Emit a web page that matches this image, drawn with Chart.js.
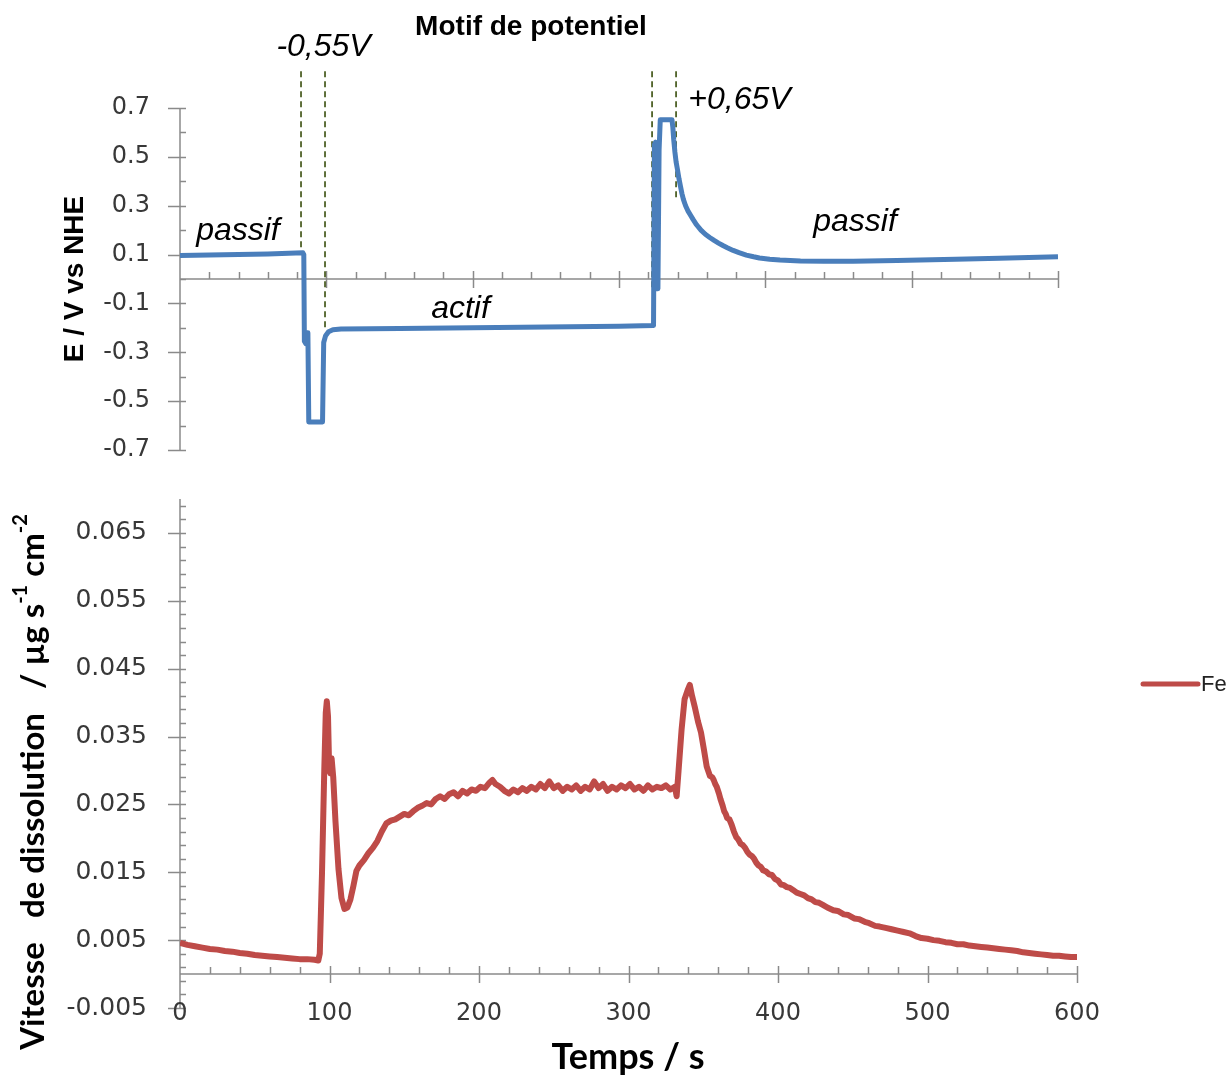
<!DOCTYPE html>
<html>
<head>
<meta charset="utf-8">
<script src="https://cdn.jsdelivr.net/npm/chart.js@4.4.1/dist/chart.umd.min.js"></script>
<style>
  html, body { margin: 0; padding: 0; background: #fff; }
  .wrap { position: relative; width: 1228px; height: 1076px; }
  .wrap canvas { position: absolute; left: 0; top: 0; }
</style>
</head>
<body>
<div class="wrap">
  <canvas id="potChart" width="1228" height="1076"></canvas>
  <canvas id="feChart" width="1228" height="1076"></canvas>
</div>
<script>
// data: potential pattern (top)
const potTime = [0, 30, 60, 84.0, 84.6, 85.0, 86.0, 86.6, 87.4, 88.0, 97.4, 98.2, 99.5, 101.5, 104.5, 110,
  150, 200, 250, 300, 323.6, 324.2, 325.0, 325.6, 326.6, 327.4, 328.2, 336.2, 336.8, 337.4, 338.2, 339.0, 339.9,
  341, 342, 343, 344, 345.5, 347, 349, 350.6, 353, 356, 359, 362, 365, 368, 371, 374, 378, 382, 387, 392,
  396, 403, 410, 424, 440, 460, 490, 530, 560, 600]
const potValue = [0.096, 0.099, 0.102, 0.107, 0.100, -0.255, -0.265, -0.22, -0.22, -0.585, -0.585, -0.26, -0.232, -0.216, -0.208, -0.205,
  -0.203, -0.200, -0.197, -0.193, -0.19, 0.55, 0.56, -0.04, -0.04, 0.53, 0.652, 0.652, 0.62, 0.57, 0.52, 0.48, 0.45,
  0.41, 0.38, 0.35, 0.326, 0.30, 0.28, 0.26, 0.244, 0.222, 0.20, 0.183, 0.170, 0.158, 0.147, 0.137, 0.128, 0.117, 0.108, 0.098, 0.091,
  0.086, 0.081, 0.078, 0.074, 0.073, 0.073, 0.076, 0.081, 0.085, 0.091]

// dashed markers around the pulses
const markerTime = [82.7, 99.1, 322.6, 339]
const markerLow = [0.108, -0.2, -0.04, 0.33]
const markerHigh = 0.85

// data: Fe dissolution rate (bottom)
const feTime = [0, 5, 10, 15, 20, 25, 30, 35, 40, 45, 50, 55, 60, 65, 70, 75, 80, 85, 90, 92.5,
  93.5, 95, 96.5, 97.5, 98.2, 99, 99.8, 100.6, 101.4, 102.5, 104, 106, 108, 110, 112, 114, 116, 118,
  120, 123, 126, 129, 132, 135, 138, 141, 144, 147, 150, 153, 156, 159, 162, 165, 168, 171, 174, 177,
  180, 183, 186, 189, 192, 195, 198, 201, 204, 207, 209, 211, 214, 217, 220, 223, 226, 229, 232, 235,
  238, 241, 244, 247, 250, 253, 256, 259, 262, 265, 268, 271, 274, 277, 280, 283, 286, 289, 292, 295,
  298, 301, 304, 307, 310, 313, 316, 319, 322, 325, 328, 331, 332.2, 333.5, 335.5, 337.5, 339.5, 341,
  342.5, 344.5, 346.5, 348.5, 350.5, 352.3, 354.5, 356, 357, 358, 359, 360.5, 361.5, 363, 364, 365, 366,
  367.5, 369, 370.5, 372, 373.5, 375, 376.5, 378, 379.5, 381, 382.5, 384, 385.5, 387, 388.5, 390, 392,
  394, 396, 398, 400, 402, 404, 406, 408, 410, 412.5, 415, 417.5, 420, 422.5, 425, 427.5, 430, 433,
  437, 440, 444, 447, 451, 454, 458, 461, 465, 468, 472, 476, 480, 484, 488, 492, 496, 500, 504, 508,
  512, 516, 520, 524, 528, 532, 536, 540, 544, 548, 552, 556, 560, 564, 568, 572, 576, 580, 584, 588,
  592, 596, 600]
const feRate = [0.0046, 0.0043, 0.0041, 0.0039, 0.0037, 0.0036, 0.0034, 0.0033, 0.0031, 0.0030, 0.0028, 0.0027, 0.0026, 0.0025, 0.0024, 0.0023, 0.0022, 0.0022, 0.0021, 0.0020,
  0.0030, 0.0150, 0.0300, 0.0385, 0.0402, 0.0380, 0.0300, 0.0296, 0.0318, 0.0290, 0.0225, 0.0155, 0.0112, 0.0096, 0.0098, 0.0110, 0.0130, 0.0152,
  0.0160, 0.0168, 0.0178, 0.0186, 0.0196, 0.0210, 0.0222, 0.0226, 0.0228, 0.0232, 0.0236, 0.0234, 0.0240, 0.0245, 0.0248, 0.0252, 0.0250, 0.0258, 0.0262, 0.0258,
  0.0265, 0.0268, 0.0262, 0.0270, 0.0266, 0.0272, 0.0270, 0.0276, 0.0274, 0.0282, 0.0286, 0.0280, 0.0276, 0.0270, 0.0266, 0.0272, 0.0268, 0.0274, 0.0270, 0.0276,
  0.0272, 0.0280, 0.0274, 0.0284, 0.0274, 0.0278, 0.0270, 0.0276, 0.0272, 0.0278, 0.0270, 0.0276, 0.0272, 0.0284, 0.0274, 0.0280, 0.0270, 0.0276, 0.0272, 0.0278,
  0.0274, 0.0280, 0.0272, 0.0276, 0.0270, 0.0278, 0.0272, 0.0276, 0.0274, 0.0278, 0.0272, 0.0276, 0.0262, 0.0300, 0.0360, 0.0405, 0.0418, 0.0426,
  0.0410, 0.0392, 0.0372, 0.0356, 0.0330, 0.0306, 0.0292, 0.0290, 0.0286, 0.0280, 0.0276, 0.0266, 0.0258, 0.0248, 0.0240, 0.0236, 0.0230,
  0.0228, 0.0220, 0.0210, 0.0202, 0.0198, 0.0192, 0.0190, 0.0186, 0.0180, 0.0176, 0.0174, 0.0170, 0.0164, 0.0160, 0.0158, 0.0153, 0.0151,
  0.0147, 0.0146, 0.0140, 0.0138, 0.0132, 0.0131, 0.0128, 0.0127, 0.0124, 0.0120, 0.0118, 0.0116, 0.0112, 0.0110, 0.0106, 0.0105, 0.0102, 0.0098,
  0.0094, 0.0093, 0.0088, 0.0087, 0.0082, 0.0081, 0.0077, 0.0075, 0.0071, 0.0070, 0.0068, 0.0066, 0.0064, 0.0062, 0.0060, 0.0056, 0.0053, 0.0052, 0.0050, 0.0049,
  0.0047, 0.0046, 0.0044, 0.0044, 0.0042, 0.0041, 0.0040, 0.0039, 0.0038, 0.0037, 0.0036, 0.0035, 0.0034, 0.0032, 0.0031, 0.0030, 0.0029, 0.0028, 0.0027, 0.0027,
  0.0026, 0.0025, 0.0025]

// tick labels
const potTicks = [-0.7, -0.5, -0.3, -0.1, 0.1, 0.3, 0.5, 0.7]
const rateTicks = [-0.005, 0.005, 0.015, 0.025, 0.035, 0.045, 0.055, 0.065]
const timeTicks = [0, 100, 200, 300, 400, 500, 600]

// text notes on the potential chart: [text, time, potential]
const potNotes = [
  ['passif', 39.6, 0.195],
  ['actif', 191.7, -0.125],
  ['passif', 461.3, 0.232],
  ['-0,55V', 98.1, 0.949],
  ['+0,65V', 382.3, 0.732]
]

const AXIS_COLOR = '#8a8a8a'
const LABEL_COLOR = '#383838'
const BLUE = '#4a7ebb'
const RED = '#be4b48'
const MARKER = '#4f6228'
const TICK_FONT = '"DejaVu Sans", sans-serif'

// helper: build minor ticks between min and max
function steps(from, to, step) {
  const out = []
  for (let v = from; v <= to + step / 100; v += step) out.push(+v.toFixed(6))
  return out
}

// plugin: axis lines, tick marks and (optionally) bottom tick labels
const axisDecor = {
  id: 'axisDecor',
  beforeDatasetsDraw(chart, args, opts) {
    const {ctx, chartArea: area, scales: {x, y}} = chart
    const x0 = area.left
    const yAx = y.getPixelForValue(opts.xAxisAt)
    const xEnd = x.getPixelForValue(opts.xMax)
    ctx.save()
    ctx.strokeStyle = AXIS_COLOR
    ctx.lineWidth = 1.5
    ctx.beginPath()
    ctx.moveTo(x0, area.top)
    ctx.lineTo(x0, area.bottom)
    opts.yMinor.forEach(v => {
      const p = Math.round(y.getPixelForValue(v)) + 0.5
      ctx.moveTo(x0, p)
      ctx.lineTo(x0 + 6, p)
    })
    opts.yMajor.forEach(v => {
      const p = Math.round(y.getPixelForValue(v)) + 0.5
      ctx.moveTo(x0 - 12, p)
      ctx.lineTo(x0 + 6, p)
    })
    ctx.moveTo(x0, yAx)
    ctx.lineTo(xEnd, yAx)
    opts.xMinor.forEach(v => {
      const p = Math.round(x.getPixelForValue(v)) + 0.5
      ctx.moveTo(p, yAx - 7)
      ctx.lineTo(p, yAx)
    })
    opts.xMajor.forEach(v => {
      const p = Math.round(x.getPixelForValue(v)) + 0.5
      ctx.moveTo(p, yAx - 8)
      ctx.lineTo(p, yAx + 9)
    })
    ctx.stroke()

    // x tick labels below the plot (Chart.js would clip them to the scale box)
    if (opts.xLabels) {
      ctx.fillStyle = LABEL_COLOR
      ctx.font = '24px ' + TICK_FONT
      ctx.textAlign = 'center'
      ctx.textBaseline = 'middle'
      opts.xLabels.forEach(v => {
        ctx.fillText(String(v), x.getPixelForValue(v), area.bottom + opts.xLabelOffset)
      })
    }
    ctx.restore()
  }
}

// plugin: free text (titles, notes, legend)
const textDecor = {
  id: 'textDecor',
  afterDraw(chart, args, opts) {
    const {ctx, scales: {x, y}} = chart
    ctx.save()
    ctx.textBaseline = 'middle'
    ;(opts.notes || []).forEach(([text, t, v]) => {
      ctx.font = 'italic 32px "Liberation Sans", Arial, sans-serif'
      ctx.fillStyle = '#000'
      ctx.textAlign = 'center'
      ctx.fillText(text, x.getPixelForValue(t), y.getPixelForValue(v))
    })
    ;(opts.items || []).forEach(item => {
      ctx.save()
      ctx.translate(item.x, item.y)
      if (item.rotate) ctx.rotate(item.rotate)
      ctx.fillStyle = item.color || '#000'
      const parts = item.parts || [[item.text, false]]
      const mainFont = item.font
      const supFont = item.supFont || mainFont
      let total = 0
      parts.forEach(([s, sup]) => {
        ctx.font = sup ? supFont : mainFont
        total += ctx.measureText(s).width
      })
      let cx = -total / 2
      ctx.textAlign = 'left'
      parts.forEach(([s, sup]) => {
        ctx.font = sup ? supFont : mainFont
        ctx.fillText(s, cx, sup ? -item.supRaise : 0)
        cx += ctx.measureText(s).width
      })
      ctx.restore()
    })
    if (opts.legend) {
      const lg = opts.legend
      ctx.strokeStyle = lg.color
      ctx.lineWidth = 5
      ctx.lineCap = 'round'
      ctx.beginPath()
      ctx.moveTo(lg.x, lg.y)
      ctx.lineTo(lg.x + 55, lg.y)
      ctx.stroke()
      ctx.fillStyle = '#222'
      ctx.font = '22px "Liberation Sans", Arial, sans-serif'
      ctx.textAlign = 'left'
      ctx.fillText(lg.text, lg.x + 58, lg.y + 1)
    }
    ctx.restore()
  }
}

// top chart: potential pattern
const potPoints = potTime.map((t, i) => ({x: t, y: potValue[i]}))
const markerSets = markerTime.map((t, i) => ({
  data: [{x: t, y: markerHigh}, {x: t, y: markerLow[i]}],
  borderColor: MARKER,
  borderWidth: 1.8,
  borderDash: [6, 4],
  pointRadius: 0,
  clip: false
}))

new Chart(document.getElementById('potChart'), {
  type: 'line',
  data: {
    datasets: [{
      label: 'E',
      data: potPoints,
      borderColor: BLUE,
      borderWidth: 5,
      pointRadius: 0,
      tension: 0,
      borderJoinStyle: 'round'
    }, ...markerSets]
  },
  options: {
    responsive: false,
    animation: false,
    layout: {padding: {top: 108, right: 170, bottom: 626, left: 0}},
    scales: {
      x: {type: 'linear', min: 0, max: 600, display: false},
      y: {
        min: -0.7, max: 0.7,
        afterBuildTicks: s => { s.ticks = potTicks.map(value => ({value})) },
        afterFit: s => { s.width = 180 },
        grid: {display: false, drawTicks: false},
        border: {display: false},
        ticks: {
          padding: 30,
          color: LABEL_COLOR,
          font: {family: TICK_FONT, size: 24},
          callback: v => v.toFixed(1)
        }
      }
    },
    plugins: {
      legend: {display: false},
      tooltip: {enabled: false},
      axisDecor: {
        xAxisAt: 0, xMax: 600,
        yMajor: potTicks,
        yMinor: steps(-0.6, 0.6, 0.2),
        xMajor: timeTicks.filter(v => v > 0),
        xMinor: steps(20, 580, 20).filter(v => v % 100 !== 0)
      },
      textDecor: {
        notes: potNotes,
        items: [
          {text: 'Motif de potentiel', x: 531, y: 27, font: 'bold 28px "Liberation Sans", Arial, sans-serif'},
          {text: 'E / V vs NHE', x: 75, y: 279, rotate: -Math.PI / 2, font: 'bold 28px "Liberation Sans", Arial, sans-serif'}
        ]
      }
    }
  },
  plugins: [axisDecor, textDecor]
})

// bottom chart: Fe dissolution rate
const fePoints = feTime.map((t, i) => ({x: t, y: feRate[i]}))

new Chart(document.getElementById('feChart'), {
  type: 'line',
  data: {
    datasets: [{
      label: 'Fe',
      data: fePoints,
      borderColor: RED,
      borderWidth: 6,
      pointRadius: 0,
      tension: 0,
      borderJoinStyle: 'round'
    }]
  },
  options: {
    responsive: false,
    animation: false,
    layout: {padding: {top: 499, right: 151, bottom: 0, left: 0}},
    scales: {
      x: {
        type: 'linear', min: 0, max: 600, position: 'bottom',
        afterBuildTicks: s => { s.ticks = timeTicks.map(value => ({value})) },
        afterFit: s => { s.height = 68 },
        grid: {display: false, drawTicks: false},
        border: {display: false},
        ticks: {display: false}
      },
      y: {
        min: -0.005, max: 0.07,
        afterBuildTicks: s => { s.ticks = rateTicks.map(value => ({value})) },
        afterFit: s => { s.width = 180 },
        grid: {display: false, drawTicks: false},
        border: {display: false},
        ticks: {
          padding: 33,
          color: LABEL_COLOR,
          font: {family: TICK_FONT, size: 25},
          callback: v => v.toFixed(3)
        }
      }
    },
    plugins: {
      legend: {display: false},
      tooltip: {enabled: false},
      axisDecor: {
        xAxisAt: 0, xMax: 600,
        yMajor: rateTicks,
        yMinor: steps(-0.003, 0.069, 0.002),
        xMajor: timeTicks.filter(v => v > 0),
        xMinor: steps(20, 580, 20).filter(v => v % 100 !== 0),
        xLabels: timeTicks,
        xLabelOffset: 6
      },
      textDecor: {
        items: [
          {text: 'Temps / s', x: 628, y: 1057, font: 'bold 36px Lato, "Open Sans", sans-serif'},
          {
            x: 33, y: 782, rotate: -Math.PI / 2,
            font: 'bold 33px Lato, "Open Sans", sans-serif',
            supFont: 'bold 20px Lato, "Open Sans", sans-serif',
            supRaise: 12,
            parts: [['Vitesse   de dissolution   / µg s', false], ['-1', true], [' cm', false], ['-2', true]]
          }
        ],
        legend: {x: 1143, y: 684, color: RED, text: 'Fe'}
      }
    }
  },
  plugins: [axisDecor, textDecor]
})
</script>
</body>
</html>
